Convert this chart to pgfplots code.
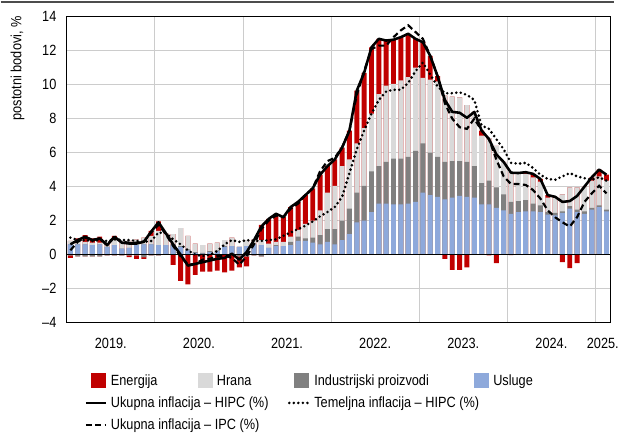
\documentclass[border=0pt]{standalone}
\usepackage{fontspec}
\setmainfont{Liberation Sans}[FakeStretch=0.86]
\usepackage{pgfplots}
\usepackage{pgfplotstable}
\pgfplotsset{compat=1.18}
\definecolor{cE}{HTML}{C00000}
\definecolor{cF}{HTML}{D9D9D9}
\definecolor{cI}{HTML}{808080}
\definecolor{cS}{HTML}{8EA9DB}
\definecolor{cGrid}{HTML}{CCCCCC}

% m: month index (0 = Jan 2019); S usluge, I industrijski proizvodi, F hrana, E energija (doprinosi, p.b.)
% T ukupna inflacija HIPC, C temeljna inflacija HIPC, P ukupna inflacija IPC
\pgfplotstableread{
m S I F E T C P
0 0.60 -0.05 0.20 -0.15 0.60 1.00 0.25
1 0.60 -0.10 0.15 0.20 0.85 0.85 0.75
2 0.60 -0.10 0.15 0.40 1.05 0.85 1.00
3 0.55 -0.10 0.15 0.25 0.85 0.80 0.85
4 0.60 -0.10 0.10 0.35 0.95 0.85 0.95
5 0.45 -0.05 0.10 0.05 0.55 0.80 0.60
6 0.55 -0.05 0.35 0.20 1.05 0.90 1.00
7 0.35 -0.05 0.40 0.00 0.70 0.85 0.75
8 0.40 -0.05 0.40 -0.10 0.65 0.85 0.70
9 0.55 -0.05 0.35 -0.20 0.65 0.80 0.70
10 0.60 -0.15 0.40 -0.10 0.75 0.75 0.75
11 0.60 -0.05 0.50 0.30 1.35 0.80 1.30
12 0.55 -0.05 0.85 0.55 1.90 1.30 1.75
13 0.55 0.00 0.70 0.00 1.25 1.25 1.20
14 0.55 0.05 0.60 -0.60 0.60 0.90 0.50
15 0.45 0.05 1.05 -1.55 0.00 0.60 -0.10
16 0.25 0.05 0.80 -1.75 -0.65 0.25 -0.60
17 0.10 0.05 0.50 -1.20 -0.55 0.00 -0.55
18 0.05 0.05 0.45 -1.00 -0.45 -0.10 -0.30
19 0.15 0.05 0.45 -1.00 -0.35 0.00 -0.25
20 0.20 0.05 0.45 -0.95 -0.25 0.20 -0.10
21 0.45 0.05 0.35 -1.05 -0.20 0.60 -0.05
22 0.50 0.00 0.50 -0.95 0.05 0.85 -0.20
23 0.45 -0.10 0.00 -0.65 -0.30 0.75 -0.60
24 0.50 -0.10 0.35 -0.60 0.15 0.85 -0.10
25 0.60 -0.05 0.30 0.00 0.85 0.80 0.60
26 0.55 -0.10 0.30 0.90 1.65 0.80 1.50
27 0.40 0.00 0.25 1.45 2.10 0.85 2.00
28 0.50 0.05 0.20 1.65 2.40 0.90 2.30
29 0.50 0.00 0.25 1.45 2.20 1.10 2.20
30 0.55 0.20 0.30 1.75 2.80 1.30 2.70
31 0.80 0.25 0.40 1.65 3.10 1.50 3.00
32 0.80 0.15 0.85 1.70 3.50 1.70 3.50
33 0.70 0.30 1.00 1.90 3.90 1.95 3.90
34 0.60 0.55 1.45 2.10 4.70 2.25 4.90
35 0.75 0.75 2.15 1.55 5.20 2.50 5.50
36 0.60 0.90 2.55 1.55 5.60 2.80 5.70
37 0.85 1.15 3.20 1.10 6.30 3.40 6.30
38 1.20 1.50 2.90 1.70 7.30 4.80 7.30
39 1.90 1.75 2.90 3.10 9.65 6.20 9.40
40 2.00 2.05 3.40 3.25 10.70 7.30 10.80
41 2.50 2.40 3.40 3.90 12.20 8.30 12.10
42 3.00 2.20 4.25 3.25 12.70 9.10 12.30
43 3.00 2.45 4.50 2.65 12.60 9.60 12.30
44 2.95 2.70 4.40 2.60 12.65 9.70 12.80
45 2.95 2.70 4.60 2.55 12.80 9.70 13.20
46 3.00 2.75 4.70 2.55 13.00 10.10 13.50
47 3.10 3.00 4.90 1.70 12.70 10.80 13.10
48 3.65 2.90 3.85 2.10 12.50 11.30 12.70
49 3.50 2.50 4.30 1.40 11.70 10.60 11.70
50 3.40 2.35 4.45 0.30 10.50 9.90 10.50
51 3.25 2.20 3.90 -0.25 9.10 9.50 8.90
52 3.35 2.15 3.80 -0.90 8.40 9.50 8.00
53 3.45 2.05 3.75 -0.90 8.35 9.55 7.50
54 3.40 2.05 3.35 -0.75 8.05 9.40 7.40
55 3.35 1.85 3.20 0.00 8.40 9.10 8.00
56 2.95 1.25 2.80 0.30 7.30 7.60 7.30
57 2.95 1.40 2.50 -0.05 6.80 7.40 6.80
58 2.75 1.20 2.45 -0.50 5.90 6.80 5.60
59 2.60 0.95 1.90 0.00 5.45 6.20 4.60
60 2.40 0.70 1.75 -0.03 4.82 5.40 4.15
61 2.50 0.65 1.65 0.00 4.80 5.35 4.15
62 2.55 0.65 1.55 0.10 4.85 5.40 4.10
63 2.55 0.45 1.55 0.20 4.75 5.10 3.80
64 2.50 0.40 1.40 0.15 4.45 4.70 3.30
65 2.35 0.15 0.85 0.15 3.50 4.45 2.60
66 2.30 0.15 0.90 0.05 3.40 4.40 2.20
67 2.45 0.10 1.00 -0.45 3.10 4.60 1.90
68 2.70 0.15 1.10 -0.80 3.15 4.80 1.65
69 2.50 0.15 1.30 -0.50 3.45 4.60 2.20
70 2.40 0.15 1.45 0.00 4.00 4.50 3.10
71 2.65 0.10 1.60 0.20 4.55 4.40 3.60
72 2.80 0.10 1.70 0.40 5.00 4.55 4.05
73 2.55 0.10 1.70 0.35 4.70 4.35 3.60
}\data

\pgfplotsset{
  patchleg/.style={legend image code/.code={\path (0pt,0pt) (20pt,0pt); \fill[##1,draw=none] (5pt,-2pt) rectangle (20pt,13pt);}},
  lineleg/.style={legend image code/.code={\draw[##1] (0pt,5pt) -- (20pt,5pt);}},
  barst/.style={ybar, bar width=5pt, bar shift=0pt, draw=none, forget plot},
  hipc/.style={black, line width=2.6pt, line join=round},
  core/.style={black, line width=2.9pt, dash pattern=on 0pt off 4.6pt, line cap=round},
  ipc/.style={black, line width=2.2pt, dash pattern=on 6pt off 3.5pt},
}

\begin{document}
\begin{tikzpicture}[font=\fontsize{15}{18}\selectfont]
\begin{axis}[
  width=551pt, height=310pt, scale only axis,
  xmin=0, xmax=74, ymin=-4, ymax=14,
  xtick={0,12,24,36,48,60,72,74},
  x tick label as interval,
  xticklabels={2019.,2020.,2021.,2022.,2023.,2024.,2025.},
  ytick={-4,-2,...,14},
  yticklabels={–4,–2,0,2,4,6,8,10,12,14},
  major tick length=0pt,
  grid=major,
  major grid style={cGrid, line width=0.9pt},
  axis line style={black, line width=0.9pt},
  tick label style={font=\fontsize{15}{18}\selectfont},
  yticklabel style={xshift=-7pt},
  xticklabel style={yshift=-12pt},
  ylabel={postotni bodovi, \%},
  ylabel style={font=\fontsize{15}{18}\selectfont, at={(axis description cs:-0.0907,1.013)}, anchor=east, rotate=0},
  clip=false,
  legend columns=4,
  legend style={at={(axis description cs:0.0272,-0.158)}, anchor=north west,
    draw=none, fill=none, font=\fontsize{15}{18}\selectfont,
    cells={anchor=base west}, row sep=6pt, column sep=0pt},
]
% positive parts
\addplot[barst, fill=cE] table[x expr=\thisrow{m}+0.5, y expr={max(\thisrow{S},0)+max(\thisrow{I},0)+max(\thisrow{F},0)+max(\thisrow{E},0)}] {\data};
\addplot[barst, fill=cF] table[x expr=\thisrow{m}+0.5, y expr={max(\thisrow{S},0)+max(\thisrow{I},0)+max(\thisrow{F},0)}] {\data};
\addplot[barst, fill=cI] table[x expr=\thisrow{m}+0.5, y expr={max(\thisrow{S},0)+max(\thisrow{I},0)}] {\data};
\addplot[barst, fill=cS] table[x expr=\thisrow{m}+0.5, y expr={max(\thisrow{S},0)}] {\data};
% negative parts
\addplot[barst, fill=cE] table[x expr=\thisrow{m}+0.5, y expr={min(\thisrow{S},0)+min(\thisrow{I},0)+min(\thisrow{F},0)+min(\thisrow{E},0)}] {\data};
\addplot[barst, fill=cF] table[x expr=\thisrow{m}+0.5, y expr={min(\thisrow{S},0)+min(\thisrow{I},0)+min(\thisrow{F},0)}] {\data};
\addplot[barst, fill=cI] table[x expr=\thisrow{m}+0.5, y expr={min(\thisrow{S},0)+min(\thisrow{I},0)}] {\data};
\addplot[barst, fill=cS] table[x expr=\thisrow{m}+0.5, y expr={min(\thisrow{S},0)}] {\data};

\draw[black, line width=0.9pt] (axis cs:0,0) -- (axis cs:74,0);

\addplot[core, forget plot] table[x expr=\thisrow{m}+0.5, y=C] {\data};
\addplot[ipc, forget plot] table[x expr=\thisrow{m}+0.5, y=P] {\data};
\addplot[hipc, forget plot] table[x expr=\thisrow{m}+0.5, y=T] {\data};

\addlegendimage{patchleg, fill=cE}
\addlegendentry{\makebox[83pt][l]{\hspace{2pt}Energija}}
\addlegendimage{patchleg, fill=cF}
\addlegendentry{\makebox[72pt][l]{\hspace{2pt}Hrana}}
\addlegendimage{patchleg, fill=cI}
\addlegendentry{\makebox[157pt][l]{\hspace{2pt}Industrijski proizvodi}}
\addlegendimage{patchleg, fill=cS}
\addlegendentry{\makebox[45pt][l]{\hspace{2pt}Usluge}}
\addlegendimage{lineleg, hipc}
\addlegendentry{\makebox[83pt][l]{\hspace{2pt}Ukupna inflacija – HIPC (\%)}}
\addlegendimage{empty legend}
\addlegendentry{}
\addlegendimage{lineleg, core}
\addlegendentry{\makebox[157pt][l]{\hspace{2pt}Temeljna inflacija – HIPC (\%)}}
\addlegendimage{empty legend}
\addlegendentry{}
\addlegendimage{lineleg, ipc}
\addlegendentry{\makebox[83pt][l]{\hspace{2pt}Ukupna inflacija – IPC (\%)}}

\draw[black!70, line width=1.3pt] (rel axis cs:0,1) ++(-67pt,15pt) -- ++(622pt,0pt);
\path (rel axis cs:0,0) ++(-67pt,-107pt) rectangle ++(622pt,434pt);
\end{axis}
\end{tikzpicture}
\end{document}
